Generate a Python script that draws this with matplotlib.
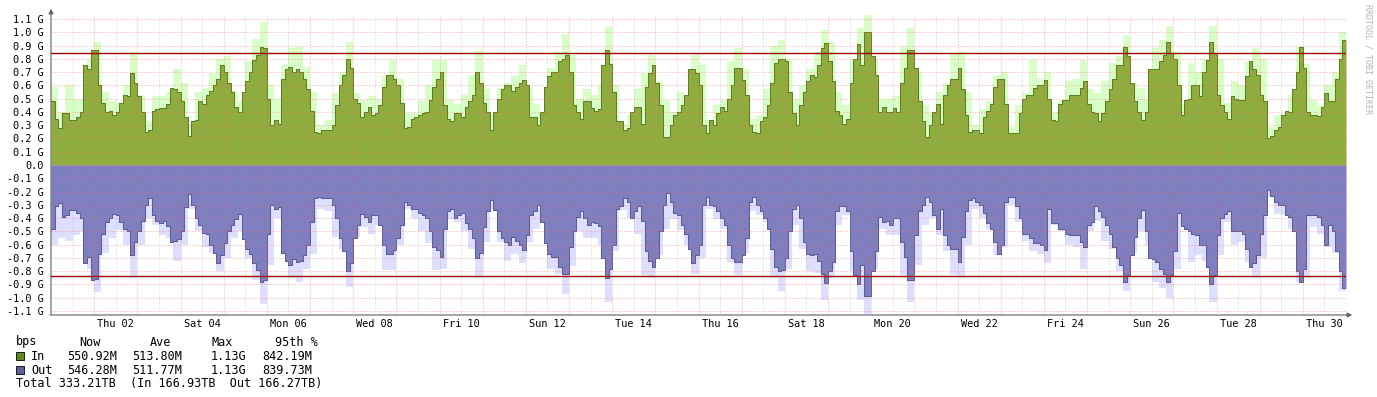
import numpy as np
import matplotlib
matplotlib.use("Agg")
import matplotlib.pyplot as plt
from matplotlib.patches import Rectangle

plt.rcParams['font.family'] = ['DejaVu Sans Mono']

# traffic in Gbit/s, 2-hourly averages over 30 days
in_avg = [
    0.48, 0.35, 0.28, 0.39, 0.39, 0.34, 0.34, 0.36, 0.40, 0.75,
    0.72, 0.87, 0.87, 0.60, 0.47, 0.40, 0.41, 0.38, 0.40, 0.47,
    0.53, 0.52, 0.69, 0.62, 0.52, 0.40, 0.25, 0.26, 0.41, 0.42,
    0.43, 0.43, 0.46, 0.58, 0.57, 0.55, 0.48, 0.36, 0.22, 0.33,
    0.34, 0.48, 0.46, 0.53, 0.56, 0.60, 0.65, 0.75, 0.70, 0.62,
    0.55, 0.44, 0.40, 0.55, 0.63, 0.70, 0.79, 0.83, 0.89, 0.88,
    0.50, 0.30, 0.34, 0.31, 0.65, 0.72, 0.74, 0.70, 0.72, 0.70,
    0.65, 0.57,
    0.41, 0.25, 0.24, 0.26, 0.26, 0.26, 0.30, 0.45, 0.60, 0.68,
    0.80, 0.73, 0.50, 0.47, 0.36, 0.40, 0.44, 0.38, 0.39, 0.45,
    0.59, 0.68, 0.68, 0.65, 0.60, 0.47, 0.28, 0.29, 0.35, 0.36,
    0.38, 0.39, 0.40, 0.49, 0.59, 0.65, 0.70, 0.45, 0.35, 0.33,
    0.39, 0.39, 0.36, 0.44, 0.48, 0.53, 0.70, 0.62, 0.47, 0.40,
    0.26, 0.40, 0.50, 0.57, 0.60, 0.60, 0.56, 0.59, 0.62, 0.64,
    0.60, 0.36, 0.36, 0.30, 0.40, 0.59, 0.67, 0.70, 0.70, 0.78,
    0.80, 0.83, 0.70,
    0.45, 0.40, 0.35, 0.48, 0.48, 0.43, 0.41, 0.42, 0.75, 0.87,
    0.76, 0.55, 0.33, 0.33, 0.26, 0.28, 0.40, 0.44, 0.44, 0.31,
    0.59, 0.69, 0.75, 0.62, 0.45, 0.21, 0.21, 0.30, 0.38, 0.40,
    0.45, 0.53, 0.72, 0.72, 0.69, 0.60, 0.30, 0.24, 0.34, 0.30,
    0.39, 0.44, 0.41, 0.50, 0.60, 0.73, 0.73, 0.64, 0.53, 0.30,
    0.25, 0.24, 0.33, 0.36, 0.45, 0.62, 0.77, 0.80, 0.80, 0.78,
    0.55, 0.39, 0.30, 0.45, 0.55, 0.63, 0.68, 0.66, 0.75, 0.88,
    0.92, 0.78,
    0.63, 0.41, 0.38, 0.31, 0.35, 0.62, 0.80, 0.91, 0.75, 1.00,
    1.00, 0.82, 0.68, 0.40, 0.44, 0.40, 0.40, 0.43, 0.40, 0.62,
    0.73, 0.87, 0.87, 0.73, 0.48, 0.33, 0.21, 0.30, 0.40, 0.46,
    0.31, 0.53, 0.60, 0.65, 0.65, 0.73, 0.57, 0.38, 0.25, 0.26,
    0.26, 0.24, 0.36, 0.41, 0.46, 0.59, 0.65, 0.65, 0.46, 0.24,
    0.24, 0.24, 0.39, 0.50, 0.53, 0.53, 0.58, 0.60, 0.60, 0.64,
    0.50, 0.34, 0.33, 0.46, 0.49, 0.49, 0.53, 0.53, 0.53, 0.58,
    0.63, 0.46,
    0.40, 0.39, 0.33, 0.39, 0.48, 0.57, 0.65, 0.75, 0.75, 0.89,
    0.82, 0.62, 0.48, 0.40, 0.34, 0.40, 0.72, 0.72, 0.72, 0.78,
    0.83, 0.93, 0.84, 0.80, 0.60, 0.38, 0.49, 0.50, 0.60, 0.60,
    0.52, 0.70, 0.79, 0.93, 0.84, 0.53, 0.45, 0.40, 0.35, 0.52,
    0.50, 0.49, 0.49, 0.67, 0.78, 0.72, 0.68, 0.53, 0.48, 0.20,
    0.22, 0.26, 0.29, 0.38, 0.41, 0.40, 0.57, 0.70, 0.89, 0.73,
    0.40, 0.38, 0.38, 0.37, 0.44, 0.54, 0.48, 0.48, 0.65, 0.80,
    0.94,
]

out_avg = [
    -0.48, -0.31, -0.29, -0.39, -0.38, -0.34, -0.34, -0.36, -0.40, -0.74,
    -0.69, -0.87, -0.86, -0.67, -0.52, -0.43, -0.40, -0.37, -0.38, -0.43,
    -0.48, -0.50, -0.68, -0.58, -0.50, -0.42, -0.30, -0.25, -0.38, -0.42,
    -0.44, -0.42, -0.46, -0.58, -0.57, -0.56, -0.50, -0.32, -0.22, -0.30,
    -0.40, -0.45, -0.51, -0.52, -0.60, -0.66, -0.74, -0.68, -0.59, -0.50,
    -0.45, -0.41, -0.37, -0.56, -0.63, -0.67, -0.74, -0.79, -0.88, -0.87,
    -0.52, -0.30, -0.33, -0.32, -0.66, -0.72, -0.75, -0.71, -0.73, -0.72,
    -0.68, -0.60,
    -0.43, -0.25, -0.24, -0.25, -0.25, -0.25, -0.30, -0.40, -0.55, -0.65,
    -0.80, -0.74, -0.55, -0.45, -0.37, -0.39, -0.43, -0.38, -0.38, -0.45,
    -0.60, -0.67, -0.67, -0.64, -0.55, -0.45, -0.28, -0.30, -0.33, -0.33,
    -0.36, -0.38, -0.40, -0.50, -0.62, -0.64, -0.69, -0.48, -0.35, -0.33,
    -0.40, -0.38, -0.36, -0.44, -0.48, -0.55, -0.70, -0.66, -0.47, -0.35,
    -0.26, -0.34, -0.50, -0.55, -0.58, -0.60, -0.54, -0.57, -0.60, -0.64,
    -0.53, -0.38, -0.35, -0.30, -0.43, -0.59, -0.67, -0.69, -0.69, -0.77,
    -0.82, -0.82, -0.62,
    -0.50, -0.39, -0.35, -0.40, -0.45, -0.43, -0.44, -0.46, -0.70, -0.85,
    -0.78, -0.60, -0.33, -0.31, -0.25, -0.28, -0.40, -0.35, -0.31, -0.42,
    -0.65, -0.72, -0.77, -0.70, -0.50, -0.30, -0.21, -0.28, -0.36, -0.38,
    -0.45, -0.52, -0.63, -0.74, -0.68, -0.60, -0.30, -0.24, -0.30, -0.31,
    -0.35, -0.40, -0.45, -0.60, -0.70, -0.73, -0.73, -0.68, -0.55, -0.28,
    -0.24, -0.30, -0.35, -0.40, -0.48, -0.63, -0.77, -0.80, -0.79, -0.70,
    -0.50, -0.33, -0.30, -0.40, -0.58, -0.67, -0.68, -0.67, -0.72, -0.82,
    -0.89, -0.80,
    -0.73, -0.35, -0.31, -0.31, -0.35, -0.65, -0.83, -0.90, -0.75, -0.99,
    -0.99, -0.80, -0.65, -0.39, -0.43, -0.42, -0.45, -0.40, -0.40, -0.58,
    -0.69, -0.87, -0.87, -0.53, -0.35, -0.30, -0.24, -0.28, -0.38, -0.48,
    -0.33, -0.53, -0.60, -0.63, -0.63, -0.73, -0.54, -0.35, -0.26, -0.25,
    -0.28, -0.30, -0.36, -0.44, -0.48, -0.58, -0.67, -0.60, -0.28, -0.24,
    -0.24, -0.31, -0.40, -0.52, -0.52, -0.55, -0.59, -0.59, -0.60, -0.64,
    -0.33, -0.44, -0.44, -0.48, -0.48, -0.52, -0.53, -0.53, -0.53, -0.58,
    -0.62, -0.45,
    -0.43, -0.31, -0.35, -0.39, -0.45, -0.52, -0.62, -0.70, -0.75, -0.88,
    -0.83, -0.68, -0.54, -0.40, -0.34, -0.50, -0.70, -0.71, -0.73, -0.78,
    -0.82, -0.88, -0.83, -0.65, -0.36, -0.46, -0.48, -0.50, -0.52, -0.53,
    -0.60, -0.60, -0.77, -0.90, -0.83, -0.53, -0.40, -0.37, -0.35, -0.50,
    -0.50, -0.50, -0.52, -0.63, -0.77, -0.74, -0.68, -0.52, -0.38, -0.19,
    -0.23, -0.28, -0.30, -0.30, -0.38, -0.39, -0.50, -0.80, -0.88, -0.78,
    -0.38, -0.38, -0.38, -0.39, -0.45, -0.60, -0.45, -0.50, -0.65, -0.80,
    -0.93,
]

# 4-hourly maxima
in_max = [
    0.59, 0.40, 0.60, 0.50, 0.50, 0.80, 0.93, 0.55, 0.48, 0.47,
    0.60, 0.85, 0.53, 0.33, 0.52, 0.52, 0.55, 0.72, 0.62, 0.30,
    0.55, 0.58, 0.69, 0.80, 0.82, 0.56, 0.48, 0.78, 0.95, 1.08,
    0.60, 0.50, 0.75, 0.88, 0.89, 0.74,
    0.55, 0.30, 0.34, 0.54, 0.70, 0.93, 0.54, 0.49, 0.52, 0.50,
    0.67, 0.79, 0.65, 0.39, 0.39, 0.48, 0.60, 0.79, 0.79, 0.49,
    0.46, 0.53, 0.68, 0.87, 0.57, 0.38, 0.58, 0.62, 0.67, 0.75,
    0.57, 0.46, 0.40, 0.73, 0.85, 0.99, 0.83,
    0.50, 0.57, 0.53, 0.60, 1.04, 0.60, 0.31, 0.38, 0.57, 0.69,
    0.83, 0.63, 0.49, 0.40, 0.55, 0.50, 0.83, 0.75, 0.34, 0.45,
    0.49, 0.78, 0.88, 0.72, 0.35, 0.38, 0.57, 0.90, 0.94, 0.80,
    0.50, 0.60, 0.72, 0.85, 1.02, 0.93,
    0.55, 0.45, 0.79, 1.03, 1.13, 0.80, 0.50, 0.50, 0.52, 0.89,
    1.03, 0.70, 0.45, 0.39, 0.55, 0.62, 0.84, 0.85, 0.55, 0.30,
    0.42, 0.48, 0.68, 0.70, 0.29, 0.45, 0.54, 0.79, 0.65, 0.70,
    0.40, 0.49, 0.63, 0.65, 0.79, 0.57,
    0.54, 0.63, 0.77, 0.82, 0.98, 0.62, 0.58, 0.50, 0.88, 0.94,
    1.05, 0.85, 0.46, 0.77, 0.70, 0.80, 1.05, 0.80, 0.47, 0.63,
    0.60, 0.78, 0.88, 0.80, 0.29, 0.38, 0.38, 0.53, 0.89, 0.76,
    0.49, 0.45, 0.60, 0.70, 1.00,
]

out_max = [
    -0.60, -0.55, -0.57, -0.53, -0.50, -0.78, -0.96, -0.66, -0.55, -0.49,
    -0.60, -0.85, -0.60, -0.40, -0.45, -0.53, -0.55, -0.72, -0.60, -0.33,
    -0.50, -0.62, -0.66, -0.80, -0.70, -0.55, -0.50, -0.70, -0.87, -1.05,
    -0.75, -0.40, -0.50, -0.85, -0.88, -0.78,
    -0.67, -0.33, -0.35, -0.54, -0.63, -0.92, -0.54, -0.47, -0.52, -0.45,
    -0.79, -0.79, -0.60, -0.33, -0.40, -0.50, -0.59, -0.79, -0.78, -0.41,
    -0.43, -0.50, -0.63, -0.85, -0.58, -0.33, -0.58, -0.72, -0.67, -0.74,
    -0.58, -0.48, -0.43, -0.78, -0.82, -0.97, -0.76,
    -0.50, -0.55, -0.55, -0.60, -1.03, -0.65, -0.34, -0.40, -0.52, -0.83,
    -0.85, -0.68, -0.48, -0.41, -0.49, -0.60, -0.82, -0.70, -0.33, -0.41,
    -0.48, -0.73, -0.83, -0.66, -0.35, -0.38, -0.43, -0.85, -0.95, -0.78,
    -0.45, -0.63, -0.80, -0.81, -1.02, -0.85,
    -0.45, -0.38, -0.80, -1.02, -1.12, -0.78, -0.48, -0.53, -0.53, -0.83,
    -1.03, -0.75, -0.45, -0.40, -0.53, -0.65, -0.83, -0.85, -0.60, -0.33,
    -0.40, -0.48, -0.68, -0.62, -0.30, -0.43, -0.57, -0.65, -0.67, -0.74,
    -0.45, -0.50, -0.60, -0.62, -0.78, -0.50,
    -0.42, -0.57, -0.63, -0.80, -0.95, -0.66, -0.50, -0.60, -0.88, -0.93,
    -1.00, -0.78, -0.43, -0.73, -0.68, -0.72, -1.03, -0.68, -0.43, -0.60,
    -0.58, -0.73, -0.85, -0.70, -0.24, -0.37, -0.38, -0.48, -0.88, -0.85,
    -0.47, -0.52, -0.62, -0.66, -0.95,
]

pct95_in = 0.84219
pct95_out = -0.83973

y_ticks = np.round(np.arange(-1.1, 1.15, 0.1), 1)
day_labels = ["Thu 02", "Sat 04", "Mon 06", "Wed 08", "Fri 10", "Sun 12", "Tue 14",
              "Thu 16", "Sat 18", "Mon 20", "Wed 22", "Fri 24", "Sun 26", "Tue 28", "Thu 30"]
day_label_pos = np.arange(1.5, 30, 2)

legend_head = ["bps", "Now", "Ave", "Max", "95th %"]
legend_in = ["In", "550.92M", "513.80M", "1.13G", "842.19M"]
legend_out = ["Out", "546.28M", "511.77M", "1.13G", "839.73M"]
legend_total = "Total 333.21TB  (In 166.93TB  Out 166.27TB)"

W, H = 1377, 397
fig = plt.figure(figsize=(W / 100, H / 100), dpi=100)
fig.patch.set_facecolor("white")
ax = fig.add_axes([51 / W, (H - 315) / H, 1295 / W, 300 / H])
ax.set_xlim(0, 30)
ax.set_ylim(-1.13, 1.13)
for s in ax.spines.values():
    s.set_visible(False)


def ext(v):
    return np.append(v, v[-1])


t_avg = np.arange(len(in_avg) + 1) * 30 / len(in_avg)
t_max = np.arange(len(in_max) + 1) * 30 / len(in_max)

ax.fill_between(t_max, 0, ext(in_max), step="post", color="#D8FFC8", lw=0, zorder=1)
ax.fill_between(t_max, 0, ext(out_max), step="post", color="#DEDEFF", lw=0, zorder=1)
ax.fill_between(t_avg, 0, ext(in_avg), step="post", color="#8FAC3E", lw=0, zorder=2)
ax.fill_between(t_avg, 0, ext(out_avg), step="post", color="#7F7FBF", lw=0, zorder=2)
ax.step(t_avg, ext(in_avg), where="post", color="#5E7E22", lw=0.75, zorder=3)
ax.step(t_avg, ext(out_avg), where="post", color="#5C5C96", lw=0.75, zorder=3)

# rrdtool style dotted grid, drawn over the areas
for d in np.arange(0.5, 30, 1):
    ax.axvline(d, color="#A0A0A0", alpha=0.5, lw=0.72, dashes=(1, 2), zorder=4)
for d in np.arange(1, 30, 1):
    ax.axvline(d, color="#FF6060", alpha=0.55, lw=0.72, dashes=(1, 2), zorder=4)
for v in y_ticks:
    ax.axhline(v, color="#FF6060", alpha=0.55, lw=0.72, dashes=(1, 2), zorder=4)

ax.axhline(pct95_in, color="#A00000", lw=1.0, zorder=5)
ax.axhline(pct95_out, color="#A00000", lw=1.0, zorder=5)

ax.set_yticks(y_ticks)
ax.set_yticklabels(["0.0" if v == 0 else "%.1f G" % v for v in y_ticks])
ax.set_xticks(day_label_pos)
ax.set_xticklabels(day_labels)
ax.tick_params(axis="y", length=0, pad=5, labelsize=7.4)
ax.tick_params(axis="x", length=0, pad=3, labelsize=7.4)

# axes with arrow heads
ax.annotate("", xy=(51, H - 6), xytext=(51, H - 317), xycoords="figure pixels",
            arrowprops=dict(arrowstyle="-|>", color="#606060", lw=0.8, mutation_scale=7))
ax.annotate("", xy=(1355, H - 315), xytext=(47, H - 315), xycoords="figure pixels",
            arrowprops=dict(arrowstyle="-|>", color="#606060", lw=0.8, mutation_scale=7))

fig.text(1368 / W, 1 - 4 / H, "RRDTOOL / TOBI OETIKER", rotation=270,
         ha="center", va="top", fontsize=6, color="#B4B4B4")


def ftext(x, y, s):
    fig.text(x / W, 1 - y / H, s, ha="left", va="center", fontsize=8.5, color="black")


for x, s in zip([16, 79, 150, 212, 275], legend_head):
    ftext(x, 342, s)
for x, s in zip([31, 67, 132, 211, 262], legend_in):
    ftext(x, 356, s)
for x, s in zip([31, 67, 132, 211, 262], legend_out):
    ftext(x, 370, s)
ftext(16, 383, legend_total)

fig.patches.append(Rectangle((16 / W, 1 - 360 / H), 8 / W, 8 / H, transform=fig.transFigure,
                             facecolor="#608820", edgecolor="black", lw=0.6))
fig.patches.append(Rectangle((16 / W, 1 - 374 / H), 8 / W, 8 / H, transform=fig.transFigure,
                             facecolor="#606098", edgecolor="black", lw=0.6))

fig.savefig("out.png", dpi=100, facecolor="white")
